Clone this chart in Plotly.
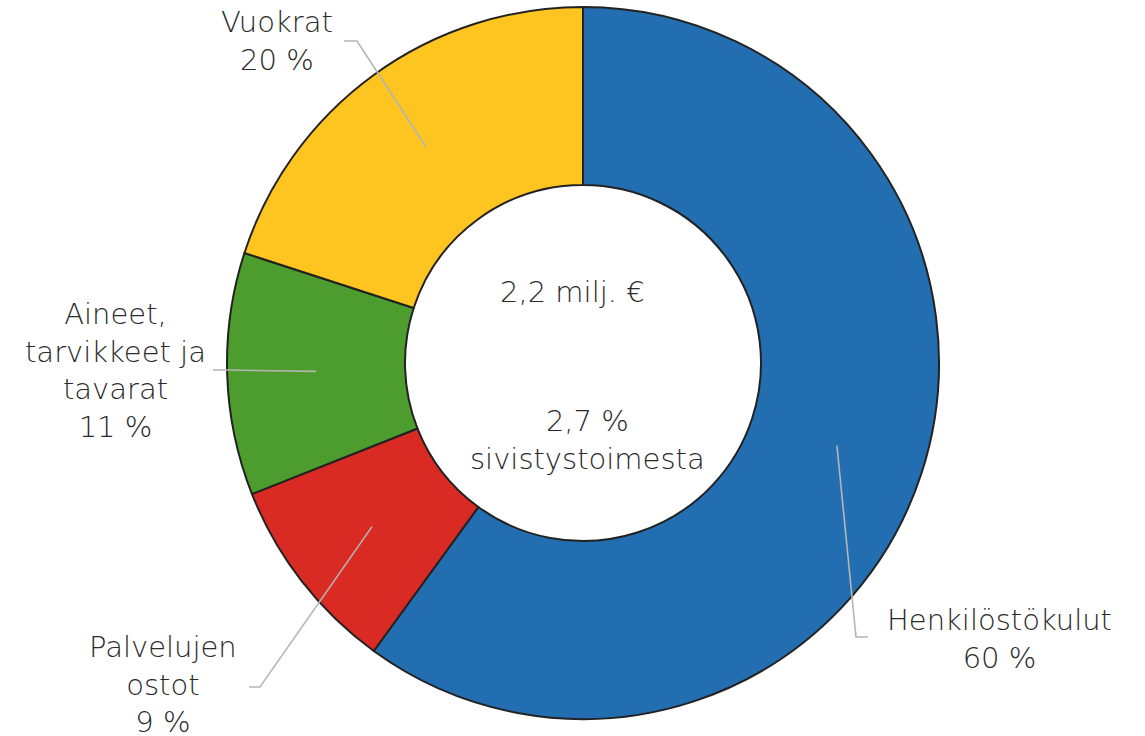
import math
import plotly.graph_objects as go

# ---- data ----
labels = ["Henkilöstökulut", "Palvelujen ostot", "Aineet, tarvikkeet ja tavarat", "Vuokrat"]
label_text = ["Henkilöstökulut<br>60 %", "Palvelujen<br>ostot<br>9 %",
              "Aineet,<br>tarvikkeet ja<br>tavarat<br>11 %", "Vuokrat<br>20 %"]
values = [60, 9, 11, 20]
colors = ["#236EB0", "#DA2A24", "#4C9C2E", "#FEC520"]
center_top = "2,2 milj. €"
center_bottom = "2,7 %<br>sivistystoimesta"

# ---- layout constants (pixels) ----
W, H = 1145, 736
CX, CY, R = 583, 363, 356
HOLE = 0.5
# label block centers and leader elbow/end points (pixels)
label_pos = [(999, 639), (163, 684), (115, 370), (277, 41)]
elbows = [((856, 637), (868, 637)), ((260, 687), (249, 687)),
          ((226, 370), (213, 370)), ((357, 41), (344, 41))]

FONT = "DejaVu Sans"
TXT = "#2a2a2a"
FS = 29

fig = go.Figure()
fig.add_trace(go.Pie(
    labels=labels, values=values, sort=False, direction="clockwise", rotation=0,
    hole=HOLE, textinfo="none", hoverinfo="label+percent",
    marker=dict(colors=colors, line=dict(color="#222222", width=2)),
    domain=dict(x=[(CX - R) / W, (CX + R) / W], y=[(H - CY - R) / H, (H - CY + R) / H]),
    showlegend=False,
))

# leader lines: start at the slice mid-angle, mid-ring radius
total = sum(values)
cum = 0
shapes = []
annotations = []
rmid = R * (1 + HOLE) / 2
for i, v in enumerate(values):
    mid = (cum + v / 2) / total * 2 * math.pi
    cum += v
    sx = CX + rmid * math.sin(mid)
    sy = CY - rmid * math.cos(mid)
    (ex, ey), (fx, fy) = elbows[i]
    shapes.append(dict(type="path", xref="x", yref="y",
                       path=f"M {sx},{sy} L {ex},{ey} L {fx},{fy}",
                       line=dict(color="#B5B5B5", width=1.6)))
    lx, ly = label_pos[i]
    annotations.append(dict(x=lx, y=ly, xref="x", yref="y", text=label_text[i],
                            showarrow=False, xanchor="center", yanchor="middle",
                            align="center",
                            font=dict(family=FONT, size=FS, color=TXT, weight=300)))

annotations.append(dict(x=572, y=292, xref="x", yref="y", text=center_top, showarrow=False,
                        xanchor="center", yanchor="middle",
                        font=dict(family=FONT, size=FS, color=TXT, weight=300)))
annotations.append(dict(x=587, y=440, xref="x", yref="y", text=center_bottom, showarrow=False,
                        xanchor="center", yanchor="middle", align="center",
                        font=dict(family=FONT, size=FS, color=TXT, weight=300)))

fig.update_layout(
    width=W, height=H, margin=dict(l=0, r=0, t=0, b=0),
    paper_bgcolor="white", plot_bgcolor="rgba(0,0,0,0)",
    xaxis=dict(range=[0, W], visible=False, fixedrange=True),
    yaxis=dict(range=[H, 0], visible=False, fixedrange=True),
    shapes=shapes, annotations=annotations,
)
fig.write_html("out.html", config={"displayModeBar": False},
               post_script="document.body.style.margin='0';document.body.style.overflow='hidden';")
